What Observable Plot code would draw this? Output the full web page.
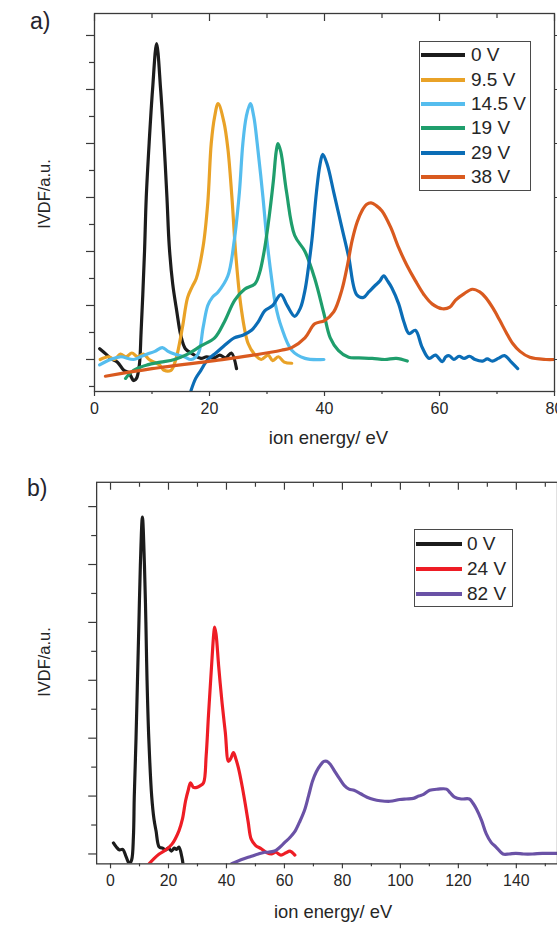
<!DOCTYPE html>
<html>
<head>
<meta charset="utf-8">
<script src="https://cdn.jsdelivr.net/npm/d3@7"></script>
<script src="https://cdn.jsdelivr.net/npm/@observablehq/plot@0.6"></script>
<style>
  html, body { margin: 0; padding: 0; background: #fff; overflow: hidden; }
  #page { position: relative; width: 557px; height: 926px; overflow: hidden;
          font-family: "Liberation Sans", Arial, Helvetica, sans-serif; color: #262626; }
  .panel { position: absolute; left: 0; }
  .tag { position: absolute; font-size: 23px; line-height: 1; color: #24242e; }
  .ytitle { position: absolute; font-size: 16.5px; line-height: 1; white-space: nowrap; color: #262626;
            transform: translate(-50%, -50%) rotate(-90deg); }
  .legend { position: absolute; box-sizing: border-box; border: 1px solid #4a4a4a; background: #fff; }
  .row { display: flex; align-items: center; font-size: 19px; color: #262626; white-space: nowrap; }
  .swatch { display: inline-block; height: 4px; }
</style>
</head>
<body>
<div id="page">
  <div id="panelA" class="panel" style="top:0px;"></div>
  <div id="panelB" class="panel" style="top:460px;"></div>
  <div class="tag" style="left:30px; top:10px;">a)</div>
  <div class="tag" style="left:27px; top:477px;">b)</div>
  <div id="ytitleA" class="ytitle" style="left:44px; top:194px;"></div>
  <div id="ytitleB" class="ytitle" style="left:44px; top:662px;"></div>
  <div id="legendA" class="legend" style="left:419px; top:41px; width:112px; height:150px; padding-top:1px;"></div>
  <div id="legendB" class="legend" style="left:414px; top:529px; width:99px; height:78px; padding-top:1.5px;"></div>
</div>
<script>
// ---- Panel a): ion energy distributions for six bias voltages ----
const seriesA = ["0 V", "9.5 V", "14.5 V", "19 V", "29 V", "38 V"];
const colorsA = ["#1c1c1c", "#e9a227", "#55bdee", "#1f9e6c", "#0b6db6", "#d95a1f"];

const energyA0 = [0.9, 2.0, 2.8, 4.0, 5.1, 6.0, 6.8, 7.3, 7.8, 8.1, 8.4, 8.7, 9.0, 9.5, 10.1, 10.8, 11.5, 12.1, 12.6, 13.0, 13.6, 14.3, 15.0, 15.8, 17.1, 18.5, 19.5, 20.8, 21.8, 22.8, 23.8, 24.7];
const ivdfA0   = [0.2, 0.1, 0.02, -0.05, -0.2, -0.25, -0.39, -0.35, -0.1, 0.5, 1.2, 2.0, 3.0, 4.0, 5.0, 5.85, 5.0, 4.0, 3.0, 2.1, 1.4, 0.9, 0.45, 0.2, 0.1, 0.02, 0.05, 0.03, 0.08, 0.03, 0.12, -0.17];

const energyA1 = [1.0, 2.5, 3.5, 4.5, 5.5, 6.5, 7.5, 8.5, 9.5, 10.4, 11.3, 12.1, 13.3, 14.0, 14.5, 15.3, 16.2, 17.0, 17.7, 18.9, 19.7, 20.3, 20.9, 21.5, 22.5, 23.2, 23.9, 24.6, 25.5, 26.7, 27.8, 29.0, 30.2, 31.0, 32.0, 33.0, 34.3];
const ivdfA1   = [0.0, 0.05, 0.0, 0.1, 0.05, 0.12, 0.05, 0.1, 0.0, -0.05, -0.1, -0.2, -0.2, -0.05, 0.15, 0.6, 1.15, 1.35, 1.5, 2.1, 2.9, 4.0, 4.5, 4.74, 4.4, 3.9, 3.0, 1.9, 0.96, 0.3, 0.1, 0.0, 0.08, -0.02, 0.05, -0.05, -0.07];

const energyA2 = [0.9, 2.8, 4.5, 6.8, 8.0, 9.2, 10.5, 11.8, 12.8, 13.9, 15.6, 16.8, 18.0, 18.9, 19.7, 20.5, 21.5, 23.2, 24.3, 25.2, 25.8, 26.4, 27.1, 27.7, 28.3, 29.3, 30.0, 30.8, 31.5, 32.5, 34.3, 36.6, 39.9];
const ivdfA2   = [-0.1, 0.0, 0.05, 0.0, 0.05, 0.1, 0.15, 0.22, 0.15, 0.1, 0.05, 0.0, 0.1, 0.6, 1.0, 1.15, 1.25, 1.55, 2.2, 3.1, 4.0, 4.5, 4.74, 4.5, 4.0, 3.0, 2.2, 1.5, 1.0, 0.6, 0.17, 0.02, 0.0];

const energyA3 = [5.4, 6.8, 9.2, 11.5, 13.9, 16.2, 18.5, 20.9, 22.6, 24.4, 26.1, 27.9, 28.7, 29.5, 30.2, 31.1, 31.6, 31.9, 32.4, 33.4, 34.8, 36.6, 38.3, 39.9, 41.0, 42.4, 44.2, 46.0, 48.3, 50.5, 52.5, 54.4];
const ivdfA3   = [-0.35, -0.2, -0.1, -0.05, 0.0, 0.1, 0.25, 0.4, 0.7, 1.1, 1.3, 1.4, 1.6, 2.0, 2.5, 3.3, 3.85, 4.0, 3.85, 3.1, 2.3, 2.0, 1.5, 0.85, 0.4, 0.17, 0.04, 0.03, 0.02, 0.0, 0.02, -0.03];

const energyA4 = [16.8, 17.6, 18.5, 19.7, 20.9, 22.5, 24.3, 25.8, 27.3, 28.5, 29.6, 31.0, 32.4, 33.5, 34.8, 35.8, 36.6, 37.2, 37.8, 38.6, 39.2, 39.7, 40.5, 41.6, 43.0, 44.2, 45.6, 46.8, 47.7, 48.8, 49.6, 50.3, 51.0, 51.7, 52.9, 53.8, 54.7, 55.8, 57.0, 58.2, 59.3, 60.5, 61.1, 61.7, 62.5, 63.4, 64.3, 65.2, 66.2, 67.5, 68.3, 69.2, 70.2, 71.3, 72.5, 73.6];
const ivdfA4   = [-0.57, -0.35, -0.2, 0.0, 0.1, 0.25, 0.4, 0.45, 0.54, 0.7, 0.9, 1.0, 1.2, 1.0, 0.8, 0.95, 1.28, 1.7, 2.2, 3.1, 3.6, 3.8, 3.6, 3.1, 2.45, 1.9, 1.2, 1.15, 1.25, 1.37, 1.45, 1.55, 1.45, 1.33, 1.03, 0.7, 0.48, 0.54, 0.22, 0.02, 0.08, -0.04, 0.05, 0.07, 0.0, 0.06, 0.02, 0.06, 0.0, -0.03, 0.01, -0.03, 0.02, 0.07, -0.05, -0.17];

const energyA5 = [1.9, 10.0, 20.9, 27.0, 32.5, 34.3, 36.6, 38.3, 40.0, 41.6, 43.0, 44.0, 44.8, 45.7, 46.5, 47.3, 48.1, 49.0, 50.0, 51.5, 52.9, 54.3, 55.8, 57.3, 58.7, 60.5, 61.8, 62.8, 64.3, 65.7, 67.0, 68.0, 69.3, 70.5, 71.6, 72.7, 74.0, 75.7, 78.5, 80.3];
const ivdfA5   = [-0.31, -0.17, -0.02, 0.07, 0.17, 0.22, 0.4, 0.66, 0.72, 0.88, 1.28, 1.75, 2.2, 2.55, 2.75, 2.87, 2.9, 2.85, 2.75, 2.45, 2.07, 1.75, 1.46, 1.2, 1.03, 0.94, 0.97, 1.1, 1.22, 1.3, 1.25, 1.15, 0.95, 0.72, 0.5, 0.3, 0.15, 0.04, 0.0, 0.0];

// ---- Panel b): three bias voltages over a wider energy range ----
const seriesB = ["0 V", "24 V", "82 V"];
const colorsB = ["#1c1c1c", "#ee1d25", "#6a52a6"];

const energyB0 = [1.0, 2.0, 3.1, 4.2, 5.4, 6.5, 7.3, 7.9, 8.2, 8.8, 9.3, 9.8, 10.3, 11.0, 11.7, 12.2, 12.6, 13.2, 14.2, 15.0, 15.7, 16.8, 18.0, 19.0, 20.0, 21.0, 22.0, 22.8, 23.6, 24.6, 25.0];
const ivdfB0   = [0.19, 0.12, 0.07, 0.08, -0.05, -0.17, -0.1, 0.3, 1.0, 2.0, 3.0, 4.0, 5.0, 5.82, 5.0, 4.0, 3.0, 2.0, 1.0, 0.6, 0.4, 0.12, 0.1, 0.07, 0.1, 0.05, 0.1, 0.08, 0.12, -0.05, -0.17];

const energyB1 = [13.3, 15.0, 16.8, 19.0, 21.2, 23.6, 24.8, 25.9, 26.8, 27.6, 28.6, 29.8, 31.0, 32.1, 33.0, 33.8, 34.8, 35.6, 35.9, 36.4, 37.3, 38.5, 39.6, 40.7, 41.5, 42.4, 43.2, 44.1, 45.3, 46.5, 47.5, 48.5, 50.0, 52.0, 54.0, 55.5, 57.0, 58.8, 60.5, 61.9, 63.6];
const ivdfB1   = [-0.17, -0.08, 0.0, 0.07, 0.17, 0.4, 0.6, 0.92, 1.1, 1.23, 1.15, 1.15, 1.18, 1.23, 1.7, 2.4, 3.2, 3.8, 3.92, 3.8, 3.25, 2.6, 2.1, 1.6, 1.65, 1.75, 1.65, 1.49, 1.2, 0.86, 0.55, 0.26, 0.15, 0.09, 0.02, 0.0, 0.03, -0.02, 0.02, 0.05, -0.02];

const energyB2 = [41.8, 45.0, 48.6, 51.0, 53.2, 54.4, 56.6, 58.5, 60.1, 61.8, 63.5, 65.2, 66.9, 68.3, 69.7, 71.0, 72.5, 73.6, 74.6, 75.8, 77.2, 79.0, 80.7, 82.3, 84.0, 86.3, 88.5, 90.8, 93.0, 96.4, 99.8, 102.0, 104.5, 106.3, 108.0, 110.1, 113.0, 115.9, 117.3, 118.7, 121.0, 123.8, 125.0, 126.2, 128.0, 129.6, 131.3, 133.0, 135.4, 137.5, 139.8, 142.5, 145.6, 149.0, 154.0];
const ivdfB2   = [-0.17, -0.1, -0.04, 0.0, 0.03, 0.03, 0.05, 0.12, 0.2, 0.28, 0.38, 0.55, 0.75, 1.0, 1.26, 1.42, 1.54, 1.6, 1.6, 1.55, 1.44, 1.3, 1.18, 1.12, 1.1, 1.04, 0.98, 0.94, 0.92, 0.91, 0.94, 0.95, 0.96, 1.0, 1.03, 1.1, 1.12, 1.12, 1.05, 0.98, 0.95, 0.95, 0.88, 0.78, 0.58, 0.35, 0.2, 0.12, 0.0, 0.0, 0.01, 0.0, 0.0, 0.01, 0.01];

// Axis ticks
const xMajorA = [0, 20, 40, 60, 80];
const xMinorA = [10, 30, 50, 70];
const xMajorB = [0, 20, 40, 60, 80, 100, 120, 140];
const xMinorB = [10, 30, 50, 70, 90, 110, 130, 150];
const yMajor  = [0, 1, 2, 3, 4, 5, 6];
const yMinorA = [-0.5, 0.5, 1.5, 2.5, 3.5, 4.5, 5.5];
const yMinorB = [0.5, 1.5, 2.5, 3.5, 4.5, 5.5];

const xTitle = "ion energy/ eV";
const yTitle = "IVDF/a.u.";

const energiesA = [energyA0, energyA1, energyA2, energyA3, energyA4, energyA5];
const valuesA   = [ivdfA0, ivdfA1, ivdfA2, ivdfA3, ivdfA4, ivdfA5];
const energiesB = [energyB0, energyB1, energyB2];
const valuesB   = [ivdfB0, ivdfB1, ivdfB2];

const toRows = (xs, ys) => xs.map((e, i) => ({e, v: ys[i]}));
const axisColor = "#3a3a3a";
const blank = () => "";
const fontStack = '"Liberation Sans", Arial, Helvetica, sans-serif';

function curveMarks(names, energies, values, colors) {
  return names.map((name, k) =>
    Plot.line(toRows(energies[k], values[k]), {
      x: "e", y: "v", stroke: colors[k], strokeWidth: 3.2,
      curve: "catmull-rom", clip: true, strokeLinejoin: "round", strokeLinecap: "round"
    })
  );
}

function tickMarks(xMajor, xMinor, yMinor, withRight) {
  const common = {stroke: axisColor, strokeWidth: 1.2, label: null, fontSize: 16, fill: "#262626"};
  const marks = [
    Plot.axisX({...common, ticks: xMajor, tickSize: 5, tickPadding: 6}),
    Plot.axisX({...common, ticks: xMinor, tickSize: 3, tickFormat: blank}),
    Plot.axisX({...common, anchor: "top", ticks: xMajor, tickSize: -7, tickFormat: blank}),
    Plot.axisX({...common, anchor: "top", ticks: xMinor, tickSize: -4, tickFormat: blank}),
    Plot.axisY({...common, ticks: yMajor, tickSize: 8, tickFormat: blank}),
    Plot.axisY({...common, ticks: yMinor, tickSize: 5, tickFormat: blank})
  ];
  if (withRight) marks.push(Plot.axisY({...common, anchor: "right", ticks: yMajor, tickSize: 3, tickFormat: blank}));
  return marks;
}

const plotA = Plot.plot({
  width: 557, height: 450,
  marginTop: 13, marginLeft: 94, marginRight: 3, marginBottom: 59,
  style: {fontFamily: fontStack, fontSize: "16px", color: "#262626", background: "transparent", overflow: "visible"},
  x: {domain: [0, 80]},
  y: {domain: [-0.593, 6.407]},
  marks: [
    ...curveMarks(seriesA, energiesA, valuesA, colorsA),
    Plot.frame({stroke: axisColor, strokeWidth: 1.3}),
    ...tickMarks(xMajorA, xMinorA, yMinorA, true),
    Plot.text([xTitle], {frameAnchor: "bottom", lineAnchor: "middle", dy: 47, dx: 4, fontSize: 18.5, fill: "#262626"})
  ]
});
document.getElementById("panelA").appendChild(plotA);

const plotB = Plot.plot({
  width: 562, height: 466,
  marginTop: 22, marginLeft: 97, marginRight: 0, marginBottom: 59,
  style: {fontFamily: fontStack, fontSize: "16px", color: "#262626", background: "transparent", overflow: "visible"},
  x: {domain: [-4.79, 154.2]},
  y: {domain: [-0.171, 6.42]},
  marks: [
    ...curveMarks(seriesB, energiesB, valuesB, colorsB),
    Plot.frame({stroke: axisColor, strokeWidth: 1.3}),
    ...tickMarks(xMajorB, xMinorB, yMinorB, false),
    Plot.text([xTitle], {frameAnchor: "bottom", lineAnchor: "middle", dy: 49, dx: 6, fontSize: 18.5, fill: "#262626"})
  ]
});
document.getElementById("panelB").appendChild(plotB);

document.getElementById("ytitleA").textContent = yTitle;
document.getElementById("ytitleB").textContent = yTitle;

// Legends
function buildLegend(id, names, colors, rowHeight, lineWidth, lineGap) {
  const box = document.getElementById(id);
  names.forEach((name, k) => {
    const row = document.createElement("div");
    row.className = "row";
    row.style.height = rowHeight + "px";
    const sw = document.createElement("span");
    sw.className = "swatch";
    sw.style.width = lineWidth + "px";
    sw.style.marginLeft = "1px";
    sw.style.background = colors[k];
    const label = document.createElement("span");
    label.textContent = name;
    label.style.marginLeft = lineGap + "px";
    row.appendChild(sw);
    row.appendChild(label);
    box.appendChild(row);
  });
}
buildLegend("legendA", seriesA, colorsA, 24.4, 44, 6);
buildLegend("legendB", seriesB, colorsB, 25, 46, 5);
</script>
</body>
</html>
